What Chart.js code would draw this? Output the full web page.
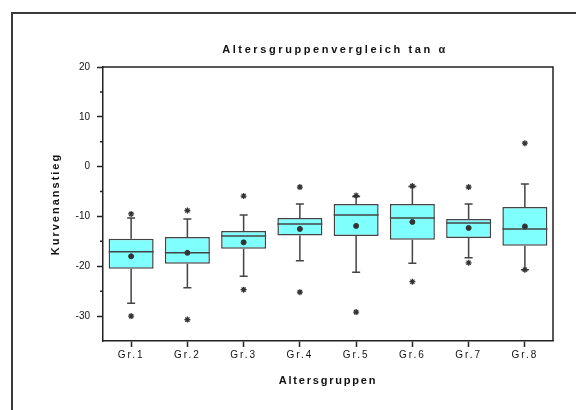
<!DOCTYPE html>
<html>
<head>
<meta charset="utf-8">
<script src="https://cdn.jsdelivr.net/npm/chart.js@4/dist/chart.umd.min.js"></script>
<style>
  html, body { margin: 0; padding: 0; background: #fff; overflow: hidden; }
  #wrap { position: relative; width: 576px; height: 410px; }
  #frame { position: absolute; left: 11px; top: 12px; width: 640px; height: 440px;
           border: 2px solid #3a3a3a; pointer-events: none; }
</style>
</head>
<body>
<div id="wrap">
  <canvas id="chart" width="576" height="410"></canvas>
  <div id="frame"></div>
</div>
<script>
// Altersgruppen
const groups = ['Gr.1', 'Gr.2', 'Gr.3', 'Gr.4', 'Gr.5', 'Gr.6', 'Gr.7', 'Gr.8']

// Box (25% / 75%)
const q1 = [-20.5, -19.5, -16.5, -13.8, -13.9, -14.7, -14.3, -15.9]
const q3 = [-14.5, -14.1, -12.9, -10.3, -7.5, -7.5, -10.5, -8.1]
const median = [-17.1, -17.3, -13.9, -11.5, -9.7, -10.3, -11.3, -12.5]
const mean = [-18.0, -17.3, -15.2, -12.5, -11.9, -11.1, -12.3, -12.0]

// Whisker
const whiskerLow = [-27.4, -24.3, -22.0, -18.9, -21.2, -19.4, -18.3, -20.7]
const whiskerHigh = [-10.3, -10.5, -9.7, -7.5, -6.0, -4.0, -7.5, -3.5]

// Extremwerte (*)
const outlierHigh = [-9.5, -8.8, -5.9, -4.1, -5.8, -3.9, -4.1, 4.7]
const outlierLow = [-30.0, -30.7, -24.7, -25.2, -29.2, -23.1, -19.3, -20.7]

// y-Achse
const yMin = -35
const yMax = 20
const yMinorTicks = [15, 5, -5, -15, -25]

Chart.defaults.font.family = "'Liberation Sans', Arial, sans-serif"
Chart.defaults.color = '#111'

// canvas letterSpacing fuer gesperrte Schrift
function spaced(obj, method, px) {
    if (!obj || obj['_sp_' + method]) return
    const orig = obj[method]
    obj[method] = function (...args) {
        const c = this.ctx
        const prev = c.letterSpacing
        c.letterSpacing = px + 'px'
        orig.apply(this, args)
        c.letterSpacing = prev
    }
    obj['_sp_' + method] = true
}

const letterPlugin = {
    id: 'letters',
    beforeDraw(chart) {
        spaced(chart.titleBlock, 'draw', 2.6)
        spaced(chart.scales.x, 'drawLabels', 2)
        spaced(chart.scales.x, 'drawTitle', 1.8)
        spaced(chart.scales.y, 'drawTitle', 2)
        // Titel ueber dem Plotbereich zentrieren
        const a = chart.chartArea
        chart.titleBlock.left = a.left + 7
        chart.titleBlock.right = a.right + 7
    }
}

// Whisker, Median, Rahmen
const boxPlugin = {
    id: 'boxExtras',
    afterDatasetDraw(chart, args) {
        if (args.index !== 0) return
        const ctx = chart.ctx
        const y = chart.scales.y
        const meta = chart.getDatasetMeta(0)
        ctx.save()
        ctx.strokeStyle = '#444'
        ctx.lineWidth = 1.5
        meta.data.forEach((bar, i) => {
            const x = bar.x
            const half = bar.width / 2
            const capHalf = 4
            // Median
            ctx.beginPath()
            ctx.moveTo(x - half, y.getPixelForValue(median[i]))
            ctx.lineTo(x + half, y.getPixelForValue(median[i]))
            ctx.stroke()
            // obere Whisker
            ctx.beginPath()
            ctx.moveTo(x, y.getPixelForValue(q3[i]))
            ctx.lineTo(x, y.getPixelForValue(whiskerHigh[i]))
            ctx.moveTo(x - capHalf, y.getPixelForValue(whiskerHigh[i]))
            ctx.lineTo(x + capHalf, y.getPixelForValue(whiskerHigh[i]))
            // untere Whisker
            ctx.moveTo(x, y.getPixelForValue(q1[i]))
            ctx.lineTo(x, y.getPixelForValue(whiskerLow[i]))
            ctx.moveTo(x - capHalf, y.getPixelForValue(whiskerLow[i]))
            ctx.lineTo(x + capHalf, y.getPixelForValue(whiskerLow[i]))
            ctx.stroke()
        })
        ctx.restore()
    },
    afterDraw(chart) {
        const ctx = chart.ctx
        const a = chart.chartArea
        const y = chart.scales.y
        ctx.save()
        ctx.strokeStyle = '#222'
        ctx.lineWidth = 1.5
        ctx.beginPath()
        ctx.moveTo(a.left, a.top)
        ctx.lineTo(a.right, a.top)
        ctx.lineTo(a.right, a.bottom)
        yMinorTicks.forEach(v => {
            ctx.moveTo(a.left - 3, y.getPixelForValue(v))
            ctx.lineTo(a.left, y.getPixelForValue(v))
        })
        ctx.stroke()
        ctx.restore()
    }
}

new Chart(document.getElementById('chart'), {
    type: 'bar',
    data: {
        labels: groups,
        datasets: [
            {
                type: 'bar',
                label: 'Box',
                data: q1.map((v, i) => [v, q3[i]]),
                backgroundColor: '#80ffff',
                borderColor: '#444',
                borderWidth: 1.5,
                borderSkipped: false,
                categoryPercentage: 0.8,
                barPercentage: 1,
                order: 3
            },
            {
                type: 'line',
                label: 'Mittelwert',
                data: mean,
                showLine: false,
                pointStyle: 'circle',
                pointRadius: 2.5,
                pointBackgroundColor: '#333',
                pointBorderColor: '#333',
                pointBorderWidth: 1,
                order: 1
            },
            {
                type: 'line',
                label: 'Max',
                data: outlierHigh,
                showLine: false,
                pointStyle: 'star',
                pointRadius: 3,
                pointBorderColor: '#333',
                pointBorderWidth: 1.3,
                order: 1
            },
            {
                type: 'line',
                label: 'Min',
                data: outlierLow,
                showLine: false,
                pointStyle: 'star',
                pointRadius: 3,
                pointBorderColor: '#333',
                pointBorderWidth: 1.3,
                order: 1
            }
        ]
    },
    options: {
        responsive: false,
        animation: false,
        events: [],
        layout: { padding: { left: 0, right: 23, top: 0, bottom: 0 } },
        plugins: {
            legend: { display: false },
            tooltip: { enabled: false },
            title: {
                display: true,
                text: 'Altersgruppenvergleich tan α',
                color: '#111',
                font: { size: 11, weight: 'bold' },
                padding: { top: 43, bottom: 10.8 }
            }
        },
        scales: {
            x: {
                offset: true,
                grid: { offset: false, drawOnChartArea: false, tickLength: 6, tickWidth: 1.5, tickColor: '#222' },
                border: { color: '#222', width: 1.5 },
                ticks: { padding: 2, font: { size: 10 }, maxRotation: 0, autoSkip: false },
                title: {
                    display: true,
                    text: 'Altersgruppen',
                    font: { size: 11, weight: 'bold' },
                    padding: { top: 0, bottom: 22.4 }
                },
                afterFit: s => { s.height = 69 }
            },
            y: {
                min: yMin,
                max: yMax,
                grid: {
                    drawOnChartArea: false,
                    tickLength: 6,
                    tickWidth: 1.5,
                    tickColor: c => (c.tick && c.tick.value % 10 === 0) ? '#222' : 'rgba(0,0,0,0)'
                },
                border: { color: '#222', width: 1.5 },
                ticks: {
                    stepSize: 5,
                    autoSkip: false,
                    padding: 7,
                    font: { size: 10 },
                    callback: v => (v % 10 === 0 ? v : '')
                },
                title: {
                    display: true,
                    text: 'Kurvenanstieg',
                    font: { size: 11, weight: 'bold' },
                    padding: { top: 49, bottom: 0 }
                },
                afterFit: s => { s.width = 103 }
            }
        }
    },
    plugins: [letterPlugin, boxPlugin]
})
</script>
</body>
</html>
